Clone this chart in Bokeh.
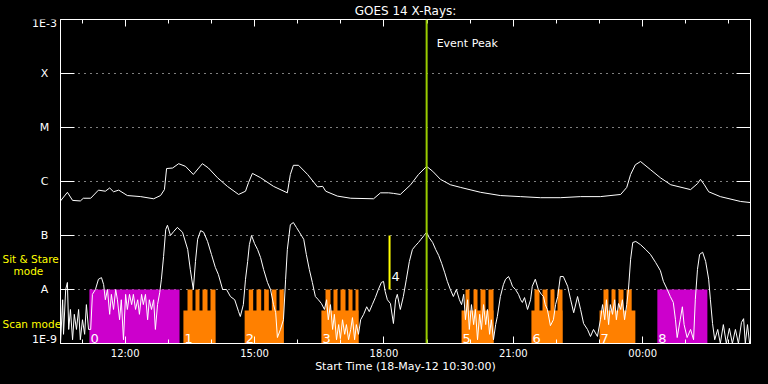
from bokeh.plotting import figure
from bokeh.layouts import row
from bokeh.models import (FixedTicker, LinearAxis, LogAxis, Label, Span, ColumnDataSource,
                          CustomJSTickFormatter)
from bokeh.core.properties import value
from bokeh.embed import file_html
from bokeh.resources import INLINE

FONT = "DejaVu Sans"

# ---------------- data ----------------
title_text = "GOES 14 X-Rays:"
x_axis_label = "Start Time (18-May-12 10:30:00)"
x_start, x_end = 10.5, 26.5            # hours of day, 18-May-12 (values > 24 = next day)
x_major_ticks = [12, 15, 18, 21, 24]
x_major_labels = ["12:00", "15:00", "18:00", "21:00", "00:00"]
x_minor_ticks = [11, 13, 14, 16, 17, 19, 20, 22, 23, 25, 26]
y_ticks = [1e-9, 1e-8, 1e-7, 1e-6, 1e-5, 1e-4, 1e-3]
y_tick_labels = ["1E-9", "A", "B", "C", "M", "X", "1E-3"]

# (hour, log10 flux W/m^2)
long_channel = [
    (10.50, -6.36), (10.66, -6.20), (10.78, -6.35), (10.96, -6.36), (11.03, -6.31), (11.20, -6.31),
    (11.38, -6.16), (11.54, -6.18), (11.64, -6.12), (11.73, -6.19), (11.85, -6.16), (12.05, -6.26),
    (12.36, -6.28), (12.66, -6.32), (12.82, -6.26), (12.91, -6.15), (12.96, -5.76), (13.10, -5.75),
    (13.24, -5.67), (13.40, -5.72), (13.58, -5.87), (13.79, -5.67), (13.93, -5.75), (14.14, -5.93),
    (14.37, -6.09), (14.63, -6.24), (14.79, -6.18), (14.86, -6.02), (14.95, -5.85), (15.14, -5.93),
    (15.44, -6.09), (15.76, -6.21), (15.83, -5.87), (15.90, -5.70), (16.02, -5.70), (16.23, -5.87),
    (16.46, -6.10), (16.58, -6.09), (16.65, -6.18), (16.92, -6.27), (17.23, -6.31), (17.76, -6.32),
    (17.92, -6.21), (18.11, -6.21), (18.22, -6.22), (18.38, -6.24), (18.62, -6.06), (18.80, -5.87),
    (18.99, -5.72), (19.13, -5.81), (19.31, -5.96), (19.54, -6.06), (19.78, -6.11), (20.24, -6.20),
    (20.70, -6.26), (21.17, -6.28), (21.63, -6.30), (22.09, -6.30), (22.56, -6.28), (23.02, -6.28),
    (23.49, -6.24), (23.63, -6.11), (23.72, -5.87), (23.83, -5.69), (23.95, -5.63), (24.18, -5.78),
    (24.41, -5.93), (24.65, -6.06), (25.11, -6.15), (25.27, -6.04), (25.34, -5.96), (25.43, -6.06),
    (25.53, -6.19), (25.80, -6.28), (26.27, -6.37), (26.50, -6.39),
]

short_channel = [
    (10.50, -9.00), (10.55, -8.19), (10.57, -8.83), (10.62, -8.00), (10.66, -7.87), (10.69, -8.74),
    (10.73, -8.37), (10.78, -8.93), (10.82, -8.46), (10.87, -8.74), (10.92, -8.37), (10.96, -8.93),
    (11.01, -8.56), (11.06, -8.83), (11.10, -8.28), (11.15, -8.74), (11.20, -8.74), (11.24, -8.09),
    (11.31, -8.00), (11.38, -7.81), (11.45, -7.78), (11.50, -7.91), (11.54, -8.19), (11.59, -8.00),
    (11.64, -8.46), (11.68, -8.09), (11.73, -8.37), (11.78, -8.00), (11.82, -8.19), (11.87, -8.56),
    (11.91, -8.19), (11.96, -8.93), (12.01, -8.09), (12.05, -8.37), (12.10, -8.09), (12.15, -8.28),
    (12.19, -8.09), (12.24, -8.37), (12.29, -8.19), (12.33, -8.46), (12.38, -8.09), (12.42, -8.28),
    (12.47, -8.09), (12.52, -8.56), (12.56, -8.19), (12.61, -8.37), (12.66, -8.19), (12.70, -8.74),
    (12.75, -8.28), (12.80, -8.06), (12.84, -7.81), (12.89, -7.39), (12.94, -6.89), (12.98, -6.81),
    (13.05, -7.00), (13.12, -6.93), (13.21, -6.85), (13.33, -6.94), (13.45, -7.26), (13.51, -7.63),
    (13.58, -8.00), (13.63, -7.48), (13.68, -7.07), (13.75, -6.91), (13.82, -6.94), (13.91, -7.11),
    (14.00, -7.35), (14.09, -7.59), (14.16, -7.72), (14.26, -8.00), (14.35, -8.00), (14.44, -8.13),
    (14.54, -8.19), (14.63, -8.41), (14.67, -8.50), (14.74, -8.28), (14.79, -7.81), (14.84, -7.48),
    (14.88, -7.17), (14.93, -7.00), (15.00, -7.15), (15.07, -7.26), (15.14, -7.41), (15.21, -7.63),
    (15.30, -7.87), (15.37, -8.00), (15.44, -8.28), (15.49, -8.43), (15.53, -8.89), (15.60, -8.74),
    (15.67, -8.56), (15.72, -7.81), (15.76, -7.26), (15.83, -6.80), (15.90, -6.76), (15.97, -6.85),
    (16.04, -6.94), (16.14, -7.07), (16.20, -7.35), (16.27, -7.63), (16.34, -7.87), (16.41, -8.13),
    (16.48, -8.19), (16.55, -8.26), (16.62, -8.37), (16.67, -8.19), (16.71, -8.56), (16.76, -8.28),
    (16.81, -8.74), (16.85, -8.46), (16.90, -8.93), (16.95, -8.65), (16.99, -8.91), (17.04, -8.56),
    (17.09, -8.83), (17.13, -8.65), (17.18, -8.93), (17.23, -8.74), (17.27, -8.52), (17.32, -8.93),
    (17.36, -8.65), (17.41, -8.83), (17.46, -8.56), (17.53, -8.46), (17.60, -8.32), (17.66, -8.41),
    (17.73, -8.28), (17.80, -8.15), (17.87, -8.00), (17.94, -7.87), (17.99, -7.85), (18.03, -8.04),
    (18.08, -8.19), (18.15, -8.26), (18.22, -8.63), (18.27, -8.19), (18.31, -8.09), (18.38, -8.37),
    (18.45, -8.13), (18.52, -7.81), (18.59, -7.48), (18.66, -7.26), (18.73, -7.19), (18.80, -7.13),
    (18.86, -7.07), (18.93, -7.00), (18.99, -6.94), (19.05, -7.04), (19.13, -7.13), (19.20, -7.26),
    (19.27, -7.37), (19.34, -7.52), (19.41, -7.69), (19.47, -7.85), (19.54, -8.00), (19.61, -8.13),
    (19.68, -8.00), (19.75, -8.19), (19.80, -8.28), (19.85, -8.09), (19.89, -8.56), (19.94, -8.19),
    (19.98, -8.74), (20.03, -8.28), (20.08, -8.65), (20.12, -8.37), (20.17, -8.93), (20.22, -8.46),
    (20.26, -8.74), (20.31, -8.28), (20.36, -8.65), (20.40, -8.37), (20.45, -8.83), (20.49, -8.56),
    (20.54, -8.93), (20.59, -8.65), (20.63, -8.50), (20.70, -8.13), (20.77, -7.91), (20.82, -7.81),
    (20.89, -7.76), (20.94, -7.85), (20.98, -7.94), (21.05, -8.00), (21.12, -8.09), (21.17, -8.19),
    (21.21, -8.24), (21.26, -8.15), (21.33, -8.37), (21.40, -8.19), (21.44, -7.94), (21.51, -7.81),
    (21.58, -8.00), (21.65, -8.09), (21.70, -8.13), (21.74, -8.28), (21.79, -8.37), (21.86, -8.67),
    (21.93, -8.56), (21.98, -8.28), (22.03, -8.13), (22.09, -7.76), (22.16, -7.76), (22.26, -7.94),
    (22.33, -8.19), (22.40, -8.43), (22.49, -8.13), (22.56, -8.37), (22.63, -8.63), (22.72, -8.74),
    (22.79, -8.87), (22.86, -8.74), (22.95, -8.87), (23.02, -8.56), (23.07, -8.28), (23.12, -8.56),
    (23.16, -8.19), (23.21, -8.65), (23.25, -8.28), (23.30, -8.46), (23.35, -8.19), (23.39, -8.56),
    (23.44, -8.26), (23.49, -8.37), (23.53, -8.19), (23.58, -8.56), (23.63, -8.28), (23.67, -8.00),
    (23.72, -7.44), (23.77, -7.13), (23.84, -7.11), (23.95, -7.17), (24.07, -7.26), (24.18, -7.35),
    (24.30, -7.50), (24.41, -7.65), (24.48, -7.85), (24.57, -8.00), (24.64, -8.13), (24.71, -8.24),
    (24.76, -8.56), (24.80, -8.89), (24.87, -8.56), (24.92, -8.32), (24.96, -8.65), (25.03, -8.89),
    (25.11, -8.74), (25.18, -8.93), (25.22, -8.19), (25.27, -7.63), (25.32, -7.35), (25.39, -7.31),
    (25.46, -7.48), (25.53, -7.81), (25.57, -8.19), (25.62, -8.63), (25.67, -8.93), (25.74, -8.74),
    (25.80, -9.00), (25.87, -8.65), (25.94, -9.00), (26.01, -8.72), (26.08, -9.00), (26.15, -8.74),
    (26.22, -9.00), (26.29, -8.61), (26.34, -8.54), (26.38, -9.00), (26.43, -8.65), (26.48, -9.00),
]

# observing-mode bins
sit_labels = ["0", "8"]
sit_start = [11.17, 24.34]
sit_end = [13.26, 25.50]
scan_labels = ["1", "2", "3", "5", "6", "7"]
scan_start = [13.35, 14.77, 16.55, 19.80, 21.42, 23.00]
scan_end = [14.09, 15.67, 17.41, 20.54, 22.14, 23.83]
scan_base_level = 4.1e-9
mode_level = 1e-8
tooth_start = [13.445, 13.630, 13.793, 13.978,
               14.866, 15.045, 15.223, 15.400, 15.578,
               16.645, 16.830, 16.993, 17.178, 17.341,
               19.891, 20.077, 20.239, 20.425,
               21.491, 21.677, 21.862, 22.025,
               23.091, 23.277, 23.439, 23.625]
tooth_end = [13.561, 13.723, 13.909, 14.094,
             14.968, 15.154, 15.330, 15.509, 15.678,
             16.761, 16.923, 17.109, 17.271, 17.410,
             19.984, 20.170, 20.355, 20.541,
             21.607, 21.793, 21.955, 22.141,
             23.207, 23.370, 23.555, 23.745]
flare_label = "4"
flare_time = 18.13
flare_low, flare_high = 1e-8, 1e-7
event_peak_time = 18.99
event_peak_text = "Event Peak"
sit_mode_text = ["Sit & Stare", "mode"]
scan_mode_text = "Scan mode"

# ---------------- style ----------------
MAGENTA = "#cc00cc"
ORANGE = "#ff8000"
YELLOW = "#ffff00"
PEAK_GREEN = "#99cc00"
TOP, BOTTOM = 19, 41
BLACK_BG = {"background-color": "black"}

p = figure(width=708, height=384, output_backend="svg", toolbar_location=None,
           x_range=(x_start, x_end), y_range=(y_ticks[0], y_ticks[-1]),
           y_axis_type="log", background_fill_color="black",
           border_fill_color="black", outline_line_color="white",
           min_border_left=0, min_border_right=18, min_border_top=TOP,
           min_border_bottom=BOTTOM, styles=BLACK_BG)

blank = CustomJSTickFormatter(code="return ''")

def style_x(ax):
    ax.ticker = FixedTicker(ticks=x_major_ticks, minor_ticks=x_minor_ticks)
    ax.axis_line_color = "white"
    ax.major_tick_line_color = "white"
    ax.minor_tick_line_color = "white"
    ax.major_tick_in = 7
    ax.major_tick_out = 0
    ax.minor_tick_in = 4
    ax.minor_tick_out = 0

# bottom axis
xa = p.xaxis[0]
style_x(xa)
xa.major_label_overrides = {t: l for t, l in zip(x_major_ticks, x_major_labels)}
xa.axis_label = x_axis_label
xa.major_label_text_color = "white"
xa.major_label_text_font = FONT
xa.major_label_text_font_size = "10px"
xa.major_label_standoff = 4
xa.axis_label_text_color = "white"
xa.axis_label_text_font = FONT
xa.axis_label_text_font_size = "11px"
xa.axis_label_text_font_style = "normal"
xa.axis_label_standoff = -2

# top axis carries the title
top = LinearAxis(formatter=blank, major_label_standoff=0, major_label_text_font_size="1px",
                 axis_label=title_text, axis_label_text_color="white",
                 axis_label_text_font=FONT, axis_label_text_font_size="12px",
                 axis_label_text_font_style="normal", axis_label_standoff=2)
style_x(top)
p.add_layout(top, "above")

def style_y(ax):
    ax.ticker = FixedTicker(ticks=y_ticks)
    ax.formatter = blank
    ax.axis_line_color = "white"
    ax.major_tick_line_color = "white"
    ax.major_tick_in = 14
    ax.major_tick_out = 0
    ax.minor_tick_line_color = None
    ax.major_label_standoff = 0
    ax.major_label_text_font_size = "8px"

style_y(p.yaxis[0])
right = LogAxis()
style_y(right)
p.add_layout(right, "right")

p.xgrid.visible = False
p.ygrid.ticker = FixedTicker(ticks=y_ticks[1:-1])
p.ygrid.grid_line_color = "white"
p.ygrid.grid_line_dash = "1 5"
p.ygrid.grid_line_width = 1

# mode bars
floor = y_ticks[0]
p.quad(left=sit_start, right=sit_end, bottom=[floor] * len(sit_start),
       top=[mode_level] * len(sit_start), fill_color=MAGENTA, line_color=None)
p.quad(left=scan_start, right=scan_end, bottom=[floor] * len(scan_start),
       top=[scan_base_level] * len(scan_start), fill_color=ORANGE, line_color=None)
p.quad(left=tooth_start, right=tooth_end, bottom=[floor] * len(tooth_start),
       top=[mode_level] * len(tooth_start), fill_color=ORANGE, line_color=None)

# flux curves
p.line([h for h, v in long_channel], [10 ** v for h, v in long_channel],
       line_color="white", line_width=1)
p.line([h for h, v in short_channel], [10 ** v for h, v in short_channel],
       line_color="white", line_width=1)

# flare marker and event peak
p.segment(x0=[flare_time], y0=[flare_low], x1=[flare_time], y1=[flare_high],
          line_color=YELLOW, line_width=2)
p.add_layout(Span(location=event_peak_time, dimension="height",
                  line_color=PEAK_GREEN, line_width=2))

# bin numbers
bin_src = ColumnDataSource(dict(
    x=sit_start + scan_start,
    y=[10 ** -8.907] * (len(sit_start) + len(scan_start)),
    t=sit_labels + scan_labels))
p.text(x="x", y="y", text="t", source=bin_src, text_color="white",
       text_font=value(FONT), text_font_size="13px", text_baseline="alphabetic",
       text_align="left", x_offset=1)
p.text(x=[flare_time], y=[10 ** -7.76], text=[flare_label], text_color="white",
       text_font=value(FONT), text_font_size="13px", text_baseline="alphabetic",
       text_align="left", x_offset=2)

# event peak label
p.add_layout(Label(x=event_peak_time, y=10 ** -3.44, text=event_peak_text, x_offset=10,
                   text_align="left", text_baseline="middle", text_color="white",
                   text_font=FONT, text_font_size="11px"))

# ---------------- left label strip (same y scale, 60 px wide) ----------------
lab = figure(width=60, height=384, output_backend="svg", toolbar_location=None,
             x_range=(0, 60), y_range=p.y_range, y_axis_type="log",
             x_axis_location=None, y_axis_location=None,
             background_fill_color="black", border_fill_color="black",
             outline_line_color=None, min_border_left=0, min_border_right=0,
             min_border_top=TOP, min_border_bottom=BOTTOM, styles=BLACK_BG)
lab.grid.visible = False

# y tick labels, centred in the strip; end labels nudged inside the frame
tick_label_y = [10 ** (-9 + 4 / 54)] + y_ticks[1:-1] + [10 ** (-3 - 4 / 54)]
lab.text(x=[44] * len(y_ticks), y=tick_label_y, text=y_tick_labels, text_color="white",
         text_font=value(FONT), text_font_size="11px", text_align="center",
         text_baseline="middle")

lab.text(x=[2, 13, 2], y=[10 ** -7.43, 10 ** -7.66, 10 ** -8.64],
         text=[sit_mode_text[0], sit_mode_text[1], scan_mode_text], text_color=YELLOW,
         text_font=value(FONT), text_font_size="10.5px", text_align="left",
         text_baseline="middle")

layout = row(lab, p, spacing=0, styles=BLACK_BG)
open("out.html", "w").write(file_html(layout, INLINE))
